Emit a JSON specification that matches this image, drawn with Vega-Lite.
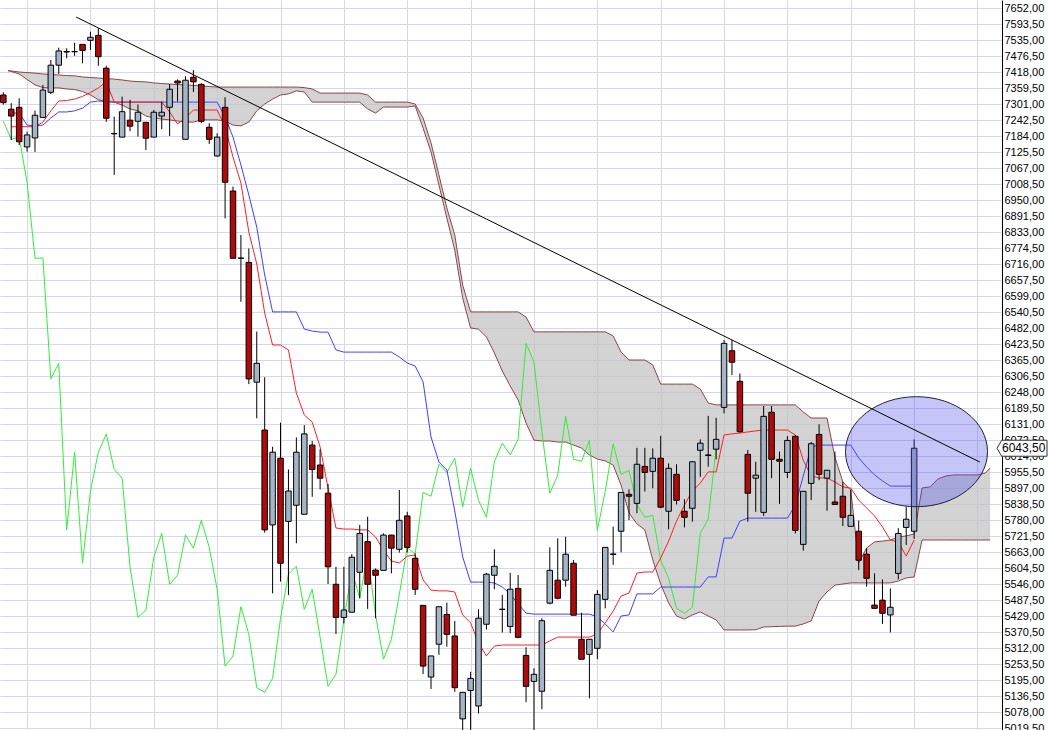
{
"$schema":"https://vega.github.io/schema/vega-lite/v6.json",
"width":1002,"height":730,
"autosize":{"type":"none"},
"padding":{"left":0,"top":0,"right":47,"bottom":0},
"background":"white",
"config":{"view":{"stroke":null},
 "axisX":{"grid":true,"gridColor":"#D6D6EE","gridWidth":1,"labels":false,"ticks":false,"domain":false,"title":null,"tickCount":100,"zindex":0},
 "axisY":{"grid":true,"gridColor":"#D6D6EE","gridWidth":1,"ticks":false,"domain":true,"domainColor":"#000000","domainWidth":1,"labelFont":"Liberation Sans","labelFontSize":11,"labelColor":"#000000","labelPadding":2,"labelOverlap":false,"labelBound":false,"title":null,"tickCount":100,"zindex":0}},
"datasets":{
"candles":[
{"k":-1,"o":7335,"h":7345,"l":7300,"c":7307},
{"k":0,"o":7283,"h":7305,"l":7170,"c":7258},
{"k":1,"o":7290,"h":7323,"l":7152,"c":7164},
{"k":2,"o":7145,"h":7201,"l":7128,"c":7189},
{"k":3,"o":7178,"h":7278,"l":7127,"c":7261},
{"k":4,"o":7253,"h":7372,"l":7253,"c":7353},
{"k":5,"o":7345,"h":7463,"l":7338,"c":7444},
{"k":6,"o":7444,"h":7508,"l":7412,"c":7496},
{"k":7,"o":7492,"h":7506,"l":7469,"c":7494},
{"k":8,"o":7494,"h":7526,"l":7478,"c":7493},
{"k":9,"o":7520,"h":7521,"l":7451,"c":7498},
{"k":10,"o":7535,"h":7566,"l":7500,"c":7546},
{"k":11,"o":7553,"h":7579,"l":7442,"c":7475},
{"k":12,"o":7433,"h":7442,"l":7237,"c":7250},
{"k":13,"o":7193,"h":7256,"l":7043,"c":7194},
{"k":14,"o":7181,"h":7329,"l":7181,"c":7274},
{"k":15,"o":7243,"h":7317,"l":7203,"c":7221},
{"k":16,"o":7239,"h":7300,"l":7183,"c":7272},
{"k":17,"o":7235,"h":7236,"l":7134,"c":7177},
{"k":18,"o":7181,"h":7280,"l":7181,"c":7272},
{"k":19,"o":7258,"h":7311,"l":7210,"c":7272},
{"k":20,"o":7290,"h":7375,"l":7185,"c":7356},
{"k":21,"o":7386,"h":7392,"l":7311,"c":7379},
{"k":22,"o":7173,"h":7404,"l":7173,"c":7389},
{"k":23,"o":7400,"h":7426,"l":7346,"c":7383},
{"k":24,"o":7374,"h":7378,"l":7232,"c":7239},
{"k":25,"o":7217,"h":7232,"l":7156,"c":7173},
{"k":26,"o":7112,"h":7195,"l":7109,"c":7181},
{"k":27,"o":7290,"h":7327,"l":6884,"c":7016},
{"k":28,"o":6984,"h":7000,"l":6738,"c":6738},
{"k":29,"o":6738,"h":6823,"l":6579,"c":6739},
{"k":30,"o":6723,"h":6774,"l":6278,"c":6297},
{"k":31,"o":6285,"h":6470,"l":6153,"c":6354},
{"k":32,"o":6110,"h":6303,"l":5735,"c":5745},
{"k":33,"o":5763,"h":6049,"l":5513,"c":6029},
{"k":34,"o":6007,"h":6137,"l":5556,"c":5623},
{"k":35,"o":5776,"h":5966,"l":5507,"c":5887},
{"k":36,"o":5835,"h":6083,"l":5696,"c":6029},
{"k":37,"o":5802,"h":6128,"l":5802,"c":6096},
{"k":38,"o":6055,"h":6070,"l":5866,"c":5966},
{"k":39,"o":5982,"h":6040,"l":5893,"c":5934},
{"k":40,"o":5879,"h":5913,"l":5547,"c":5610},
{"k":41,"o":5546,"h":5610,"l":5364,"c":5425},
{"k":42,"o":5425,"h":5610,"l":5403,"c":5452},
{"k":43,"o":5444,"h":5656,"l":5444,"c":5645},
{"k":44,"o":5590,"h":5763,"l":5495,"c":5732},
{"k":45,"o":5702,"h":5793,"l":5456,"c":5546},
{"k":46,"o":5598,"h":5604,"l":5422,"c":5579},
{"k":47,"o":5597,"h":5732,"l":5597,"c":5726},
{"k":48,"o":5726,"h":5727,"l":5586,"c":5678},
{"k":49,"o":5674,"h":5891,"l":5662,"c":5780},
{"k":50,"o":5796,"h":5811,"l":5662,"c":5681},
{"k":51,"o":5641,"h":5659,"l":5507,"c":5528},
{"k":52,"o":5469,"h":5470,"l":5218,"c":5247},
{"k":53,"o":5207,"h":5285,"l":5163,"c":5284},
{"k":54,"o":5327,"h":5465,"l":5288,"c":5464},
{"k":55,"o":5436,"h":5479,"l":5318,"c":5363},
{"k":56,"o":5357,"h":5412,"l":5153,"c":5168},
{"k":57,"o":5054,"h":5152,"l":5000,"c":5151},
{"k":58,"o":5158,"h":5226,"l":5000,"c":5202},
{"k":59,"o":5101,"h":5455,"l":5074,"c":5422},
{"k":60,"o":5400,"h":5588,"l":5381,"c":5583},
{"k":61,"o":5579,"h":5674,"l":5528,"c":5612},
{"k":62,"o":5455,"h":5507,"l":5370,"c":5454},
{"k":63,"o":5392,"h":5588,"l":5367,"c":5528},
{"k":64,"o":5531,"h":5580,"l":5349,"c":5352},
{"k":65,"o":5286,"h":5316,"l":5115,"c":5173},
{"k":66,"o":5191,"h":5239,"l":5000,"c":5217},
{"k":67,"o":5155,"h":5422,"l":5089,"c":5413},
{"k":68,"o":5477,"h":5681,"l":5473,"c":5597},
{"k":69,"o":5561,"h":5714,"l":5491,"c":5495},
{"k":70,"o":5561,"h":5720,"l":5537,"c":5656},
{"k":71,"o":5623,"h":5635,"l":5433,"c":5433},
{"k":72,"o":5345,"h":5442,"l":5272,"c":5272},
{"k":73,"o":5290,"h":5346,"l":5129,"c":5345},
{"k":74,"o":5312,"h":5525,"l":5272,"c":5509},
{"k":75,"o":5491,"h":5682,"l":5458,"c":5681},
{"k":76,"o":5655,"h":5757,"l":5617,"c":5657},
{"k":77,"o":5740,"h":5883,"l":5663,"c":5882},
{"k":78,"o":5875,"h":5893,"l":5781,"c":5868},
{"k":79,"o":5842,"h":6045,"l":5806,"c":5985},
{"k":80,"o":5977,"h":6045,"l":5885,"c":5955},
{"k":81,"o":5959,"h":6043,"l":5897,"c":6007},
{"k":82,"o":6007,"h":6089,"l":5824,"c":5828},
{"k":83,"o":5813,"h":5988,"l":5747,"c":5970},
{"k":84,"o":5948,"h":5985,"l":5838,"c":5853},
{"k":85,"o":5813,"h":5857,"l":5754,"c":5791},
{"k":86,"o":5824,"h":5995,"l":5775,"c":5994},
{"k":87,"o":6036,"h":6076,"l":5939,"c":6062},
{"k":88,"o":6017,"h":6162,"l":5976,"c":6019},
{"k":89,"o":6040,"h":6155,"l":6003,"c":6076},
{"k":90,"o":6193,"h":6439,"l":6171,"c":6427},
{"k":91,"o":6400,"h":6439,"l":6311,"c":6358},
{"k":92,"o":6288,"h":6317,"l":6100,"c":6104},
{"k":93,"o":6021,"h":6037,"l":5775,"c":5879},
{"k":94,"o":5934,"h":5994,"l":5811,"c":5945},
{"k":95,"o":5809,"h":6198,"l":5796,"c":6160},
{"k":96,"o":6175,"h":6198,"l":5934,"c":6003},
{"k":97,"o":6003,"h":6031,"l":5840,"c":5996},
{"k":98,"o":5955,"h":6088,"l":5934,"c":6072},
{"k":99,"o":6087,"h":6092,"l":5732,"c":5743},
{"k":100,"o":5692,"h":5887,"l":5669,"c":5886},
{"k":101,"o":5915,"h":6067,"l":5854,"c":6060},
{"k":102,"o":6094,"h":6131,"l":5927,"c":5948},
{"k":103,"o":5934,"h":5964,"l":5815,"c":5963},
{"k":104,"o":5847,"h":6031,"l":5838,"c":5838},
{"k":105,"o":5868,"h":5921,"l":5759,"c":5791},
{"k":106,"o":5758,"h":5891,"l":5758,"c":5798},
{"k":107,"o":5740,"h":5779,"l":5598,"c":5634},
{"k":108,"o":5656,"h":5678,"l":5537,"c":5568},
{"k":109,"o":5470,"h":5586,"l":5458,"c":5458},
{"k":110,"o":5488,"h":5564,"l":5401,"c":5440},
{"k":111,"o":5434,"h":5531,"l":5370,"c":5462},
{"k":112,"o":5586,"h":5751,"l":5564,"c":5732},
{"k":113,"o":5754,"h":5830,"l":5690,"c":5784},
{"k":114,"o":5740,"h":6076,"l":5712,"c":6043.5}
],
"chikou":[
{"k":-1,"v":7239},{"k":0,"v":7173},{"k":1,"v":7181},{"k":2,"v":7016},{"k":3,"v":6738},{"k":4,"v":6739},{"k":5,"v":6297},{"k":6,"v":6354},{"k":7,"v":5745},{"k":8,"v":6029},{"k":9,"v":5623},{"k":10,"v":5887},{"k":11,"v":6029},{"k":12,"v":6096},{"k":13,"v":5966},{"k":14,"v":5934},{"k":15,"v":5610},{"k":16,"v":5425},{"k":17,"v":5452},{"k":18,"v":5645},{"k":19,"v":5732},{"k":20,"v":5546},{"k":21,"v":5579},{"k":22,"v":5726},{"k":23,"v":5678},{"k":24,"v":5780},{"k":25,"v":5681},{"k":26,"v":5528},{"k":27,"v":5247},{"k":28,"v":5284},{"k":29,"v":5464},{"k":30,"v":5363},{"k":31,"v":5168},{"k":32,"v":5151},{"k":33,"v":5202},{"k":34,"v":5422},{"k":35,"v":5583},{"k":36,"v":5612},{"k":37,"v":5454},{"k":38,"v":5528},{"k":39,"v":5352},{"k":40,"v":5173},{"k":41,"v":5217},{"k":42,"v":5413},{"k":43,"v":5597},{"k":44,"v":5495},{"k":45,"v":5656},{"k":46,"v":5433},{"k":47,"v":5272},{"k":48,"v":5345},{"k":49,"v":5509},{"k":50,"v":5681},{"k":51,"v":5657},{"k":52,"v":5882},{"k":53,"v":5868},{"k":54,"v":5985},{"k":55,"v":5955},{"k":56,"v":6007},{"k":57,"v":5828},{"k":58,"v":5970},{"k":59,"v":5853},{"k":60,"v":5791},{"k":61,"v":5994},{"k":62,"v":6062},{"k":63,"v":6019},{"k":64,"v":6076},{"k":65,"v":6427},{"k":66,"v":6358},{"k":67,"v":6104},{"k":68,"v":5879},{"k":69,"v":5945},{"k":70,"v":6160},{"k":71,"v":6003},{"k":72,"v":5996},{"k":73,"v":6072},{"k":74,"v":5743},{"k":75,"v":5886},{"k":76,"v":6060},{"k":77,"v":5948},{"k":78,"v":5963},{"k":79,"v":5838},{"k":80,"v":5791},{"k":81,"v":5798},{"k":82,"v":5634},{"k":83,"v":5568},{"k":84,"v":5458},{"k":85,"v":5440},{"k":86,"v":5462},{"k":87,"v":5732},{"k":88,"v":5784},{"k":89,"v":6043.5}
],
"lines":[
{"k":0,"tk":7219,"kj":7269},{"k":1,"tk":7219,"kj":7269},{"k":2,"tk":7219,"kj":7225},{"k":3,"tk":7219,"kj":7222},{"k":4,"tk":7236,"kj":7225},{"k":5,"tk":7277,"kj":7251},{"k":6,"tk":7313,"kj":7273},{"k":7,"tk":7315,"kj":7273},{"k":8,"tk":7320,"kj":7277},{"k":9,"tk":7330,"kj":7287},{"k":10,"tk":7344,"kj":7309},{"k":11,"tk":7361,"kj":7313},{"k":12,"tk":7383,"kj":7311},{"k":13,"tk":7309,"kj":7309},{"k":14,"tk":7309,"kj":7309},{"k":15,"tk":7309,"kj":7309},{"k":16,"tk":7309,"kj":7309},{"k":17,"tk":7309,"kj":7309},{"k":18,"tk":7309,"kj":7309},{"k":19,"tk":7309,"kj":7309},{"k":20,"tk":7273,"kj":7309},{"k":21,"tk":7229,"kj":7309},{"k":22,"tk":7251,"kj":7309},{"k":23,"tk":7280,"kj":7309},{"k":24,"tk":7280,"kj":7309},{"k":25,"tk":7280,"kj":7309},{"k":26,"tk":7280,"kj":7309},{"k":27,"tk":7218,"kj":7255},{"k":28,"tk":7108,"kj":7181},{"k":29,"tk":7013,"kj":7079},{"k":30,"tk":6834,"kj":6969},{"k":31,"tk":6717,"kj":6852},{"k":32,"tk":6538,"kj":6677},{"k":33,"tk":6421,"kj":6542},{"k":34,"tk":6421,"kj":6542},{"k":35,"tk":6403,"kj":6542},{"k":36,"tk":6245,"kj":6542},{"k":37,"tk":6165,"kj":6479},{"k":38,"tk":6139,"kj":6472},{"k":39,"tk":6048,"kj":6468},{"k":40,"tk":5898,"kj":6468},{"k":41,"tk":5752,"kj":6403},{"k":42,"tk":5748,"kj":6395},{"k":43,"tk":5748,"kj":6395},{"k":44,"tk":5745,"kj":6395},{"k":45,"tk":5745,"kj":6395},{"k":46,"tk":5719,"kj":6395},{"k":47,"tk":5671,"kj":6395},{"k":48,"tk":5631,"kj":6395},{"k":49,"tk":5624,"kj":6377},{"k":50,"tk":5649,"kj":6355},{"k":51,"tk":5653,"kj":6344},{"k":52,"tk":5562,"kj":6286},{"k":53,"tk":5525,"kj":6085},{"k":54,"tk":5522,"kj":5993},{"k":55,"tk":5522,"kj":5964},{"k":56,"tk":5518,"kj":5814},{"k":57,"tk":5434,"kj":5646},{"k":58,"tk":5405,"kj":5554},{"k":59,"tk":5331,"kj":5554},{"k":60,"tk":5284,"kj":5554},{"k":61,"tk":5320,"kj":5551},{"k":62,"tk":5324,"kj":5536},{"k":63,"tk":5324,"kj":5511},{"k":64,"tk":5324,"kj":5474},{"k":65,"tk":5324,"kj":5441},{"k":66,"tk":5324,"kj":5437},{"k":67,"tk":5324,"kj":5437},{"k":68,"tk":5339,"kj":5437},{"k":69,"tk":5353,"kj":5437},{"k":70,"tk":5353,"kj":5437},{"k":71,"tk":5353,"kj":5437},{"k":72,"tk":5353,"kj":5437},{"k":73,"tk":5353,"kj":5437},{"k":74,"tk":5364,"kj":5427},{"k":75,"tk":5405,"kj":5401},{"k":76,"tk":5448,"kj":5372},{"k":77,"tk":5503,"kj":5430},{"k":78,"tk":5514,"kj":5434},{"k":79,"tk":5587,"kj":5511},{"k":80,"tk":5591,"kj":5511},{"k":81,"tk":5591,"kj":5511},{"k":82,"tk":5642,"kj":5536},{"k":83,"tk":5704,"kj":5536},{"k":84,"tk":5777,"kj":5536},{"k":85,"tk":5836,"kj":5536},{"k":86,"tk":5887,"kj":5536},{"k":87,"tk":5916,"kj":5536},{"k":88,"tk":5957,"kj":5573},{"k":89,"tk":5957,"kj":5573},{"k":90,"tk":6092,"kj":5715},{"k":91,"tk":6096,"kj":5715},{"k":92,"tk":6099,"kj":5777},{"k":93,"tk":6103,"kj":5788},{"k":94,"tk":6107,"kj":5788},{"k":95,"tk":6110,"kj":5788},{"k":96,"tk":6110,"kj":5788},{"k":97,"tk":6110,"kj":5788},{"k":98,"tk":6110,"kj":5788},{"k":99,"tk":6092,"kj":5836},{"k":100,"tk":6000,"kj":5942},{"k":101,"tk":5942,"kj":6048},{"k":102,"tk":5935,"kj":6055},{"k":103,"tk":5935,"kj":6055},{"k":104,"tk":5920,"kj":6055},{"k":105,"tk":5902,"kj":6055},{"k":106,"tk":5898,"kj":6055},{"k":107,"tk":5854,"kj":6008},{"k":108,"tk":5825,"kj":5975},{"k":109,"tk":5796,"kj":5946},{"k":110,"tk":5756,"kj":5924},{"k":111,"tk":5708,"kj":5905},{"k":112,"tk":5701,"kj":5905},{"k":113,"tk":5649,"kj":5905},{"k":114,"tk":5708,"kj":5905}
],
"cloud":[
{"k":-0.4,"a":7424,"b":7424},{"k":0,"a":7423,"b":7421},{"k":1,"a":7419,"b":7412},{"k":2,"a":7417,"b":7392},{"k":3,"a":7415,"b":7372},{"k":4,"a":7412,"b":7362},{"k":5,"a":7410,"b":7361},{"k":6,"a":7408,"b":7361},{"k":7,"a":7406,"b":7357},{"k":8,"a":7405,"b":7355},{"k":9,"a":7401,"b":7348},{"k":10,"a":7399,"b":7335},{"k":11,"a":7397,"b":7318},{"k":12,"a":7395,"b":7311},{"k":13,"a":7393,"b":7309},{"k":14,"a":7390,"b":7298},{"k":15,"a":7386,"b":7284},{"k":16,"a":7384,"b":7277},{"k":17,"a":7383,"b":7258},{"k":18,"a":7379,"b":7251},{"k":19,"a":7377,"b":7247},{"k":20,"a":7375,"b":7244},{"k":21,"a":7373,"b":7240},{"k":22,"a":7372,"b":7236},{"k":23,"a":7370,"b":7236},{"k":24,"a":7368,"b":7244},{"k":25,"a":7366,"b":7244},{"k":26,"a":7364,"b":7244},{"k":27,"a":7364,"b":7240},{"k":28,"a":7364,"b":7225},{"k":29,"a":7364,"b":7222},{"k":30,"a":7364,"b":7236},{"k":31,"a":7364,"b":7277},{"k":32,"a":7364,"b":7302},{"k":33,"a":7364,"b":7320},{"k":34,"a":7364,"b":7335},{"k":35,"a":7364,"b":7339},{"k":36,"a":7364,"b":7350},{"k":37,"a":7362,"b":7346},{"k":38,"a":7357,"b":7309},{"k":39,"a":7342,"b":7309},{"k":40,"a":7342,"b":7309},{"k":41,"a":7342,"b":7309},{"k":42,"a":7342,"b":7309},{"k":43,"a":7342,"b":7309},{"k":44,"a":7342,"b":7309},{"k":45,"a":7335,"b":7284},{"k":46,"a":7309,"b":7269},{"k":47,"a":7309,"b":7291},{"k":48,"a":7309,"b":7291},{"k":49,"a":7309,"b":7291},{"k":50,"a":7309,"b":7291},{"k":51,"a":7302,"b":7295},{"k":52,"a":7251,"b":7214},{"k":53,"a":7160,"b":7127},{"k":54,"a":7043,"b":7006},{"k":55,"a":6922,"b":6885},{"k":56,"a":6823,"b":6768},{"k":57,"a":6640,"b":6593},{"k":58,"a":6542,"b":6483},{"k":59,"a":6542,"b":6479},{"k":60,"a":6542,"b":6450},{"k":61,"a":6542,"b":6392},{"k":62,"a":6542,"b":6326},{"k":63,"a":6542,"b":6271},{"k":64,"a":6542,"b":6220},{"k":65,"a":6523,"b":6136},{"k":66,"a":6469,"b":6073},{"k":67,"a":6469,"b":6070},{"k":68,"a":6469,"b":6070},{"k":69,"a":6469,"b":6066},{"k":70,"a":6469,"b":6066},{"k":71,"a":6469,"b":6055},{"k":72,"a":6469,"b":6044},{"k":73,"a":6469,"b":6019},{"k":74,"a":6469,"b":6004},{"k":75,"a":6469,"b":5997},{"k":76,"a":6454,"b":5982},{"k":77,"a":6395,"b":5909},{"k":78,"a":6366,"b":5807},{"k":79,"a":6366,"b":5767},{"k":80,"a":6366,"b":5745},{"k":81,"a":6348,"b":5635},{"k":82,"a":6278,"b":5547},{"k":83,"a":6278,"b":5478},{"k":84,"a":6278,"b":5430},{"k":85,"a":6278,"b":5419},{"k":86,"a":6278,"b":5434},{"k":87,"a":6260,"b":5445},{"k":88,"a":6209,"b":5430},{"k":89,"a":6202,"b":5416},{"k":90,"a":6202,"b":5379},{"k":91,"a":6202,"b":5379},{"k":92,"a":6202,"b":5379},{"k":93,"a":6202,"b":5379},{"k":94,"a":6202,"b":5380},{"k":95,"a":6202,"b":5390},{"k":96,"a":6202,"b":5391},{"k":97,"a":6202,"b":5392},{"k":98,"a":6202,"b":5393},{"k":99,"a":6202,"b":5393},{"k":100,"a":6176,"b":5401},{"k":101,"a":6154,"b":5412},{"k":102,"a":6154,"b":5485},{"k":103,"a":6154,"b":5518},{"k":104,"a":6011,"b":5543},{"k":105,"a":5920,"b":5547},{"k":106,"a":5891,"b":5551},{"k":107,"a":5624,"b":5551},{"k":108,"a":5679,"b":5551},{"k":109,"a":5701,"b":5551},{"k":110,"a":5704,"b":5551},{"k":111,"a":5708,"b":5551},{"k":112,"a":5719,"b":5558},{"k":113,"a":5723,"b":5569},{"k":114,"a":5730,"b":5573},{"k":115,"a":5898,"b":5708},{"k":116,"a":5902,"b":5708},{"k":117,"a":5931,"b":5708},{"k":118,"a":5942,"b":5708},{"k":119,"a":5946,"b":5708},{"k":120,"a":5946,"b":5708},{"k":121,"a":5946,"b":5708},{"k":122,"a":5946,"b":5708},{"k":123,"a":5953,"b":5708},{"k":123.6,"a":5971,"b":5708}
],
"trend":[{"k":8.2,"v":7620},{"k":122.3,"v":5993}],
"marker":[{"k":114.3,"v":6030.8}],
"price":[{"k":124.4625,"v":6043.5,"label":"6043,50"}]
},
"layer":[
{"data":{"name":"cloud"},"mark":{"type":"area","color":"#C0C0C0","opacity":0.7},
 "encoding":{
  "x":{"field":"k","type":"quantitative","title":null,"scale":{"domain":[-0.7875,124.4625],"nice":false,"zero":false},
   "axis":{"values":[2,10,18,26,34,42,50,58,66,74,82,90,98,106,114,122],"tickCount":100}},
  "y":{"field":"a","type":"quantitative","title":null,"scale":{"domain":[5013.3,7682.35],"nice":false,"zero":false},
   "axis":{"orient":"right","tickCount":100,"values":[5019.5,5078,5136.5,5195,5253.5,5312,5370.5,5429,5487.5,5546,5604.5,5663,5721.5,5780,5838.5,5897,5955.5,6014,6072.5,6131,6189.5,6248,6306.5,6365,6423.5,6482,6540.5,6599,6657.5,6716,6774.5,6833,6891.5,6950,7008.5,7067,7125.5,7184,7242.5,7301,7359.5,7418,7476.5,7535,7593.5,7652],
    "labelExpr":"replace(format(datum.value,'.2f'),'.',',')"}},
  "y2":{"field":"b"}}},
{"data":{"name":"cloud"},"mark":{"type":"line","color":"#8C4646","strokeWidth":1},
 "encoding":{"x":{"field":"k","type":"quantitative","title":null,"scale":{"domain":[-0.7875,124.4625],"nice":false,"zero":false}},
  "y":{"field":"a","type":"quantitative","title":null,"scale":{"domain":[5013.3,7682.35],"nice":false,"zero":false}}}},
{"data":{"name":"cloud"},"mark":{"type":"line","color":"#8C4646","strokeWidth":1},
 "encoding":{"x":{"field":"k","type":"quantitative","title":null,"scale":{"domain":[-0.7875,124.4625],"nice":false,"zero":false}},
  "y":{"field":"b","type":"quantitative","title":null,"scale":{"domain":[5013.3,7682.35],"nice":false,"zero":false}}}},
{"data":{"name":"chikou"},"mark":{"type":"line","color":"#33EE33","strokeWidth":1},
 "encoding":{"x":{"field":"k","type":"quantitative","title":null,"scale":{"domain":[-0.7875,124.4625],"nice":false,"zero":false}},
  "y":{"field":"v","type":"quantitative","title":null,"scale":{"domain":[5013.3,7682.35],"nice":false,"zero":false}}}},
{"data":{"name":"lines"},"mark":{"type":"line","color":"#4040FF","strokeWidth":1},
 "encoding":{"x":{"field":"k","type":"quantitative","title":null,"scale":{"domain":[-0.7875,124.4625],"nice":false,"zero":false}},
  "y":{"field":"kj","type":"quantitative","title":null,"scale":{"domain":[5013.3,7682.35],"nice":false,"zero":false}}}},
{"data":{"name":"lines"},"mark":{"type":"line","color":"#FF2020","strokeWidth":1},
 "encoding":{"x":{"field":"k","type":"quantitative","title":null,"scale":{"domain":[-0.7875,124.4625],"nice":false,"zero":false}},
  "y":{"field":"tk","type":"quantitative","title":null,"scale":{"domain":[5013.3,7682.35],"nice":false,"zero":false}}}},
{"data":{"name":"candles"},"mark":{"type":"rule","color":"#000000","strokeWidth":1},
 "encoding":{"x":{"field":"k","type":"quantitative","title":null,"scale":{"domain":[-0.7875,124.4625],"nice":false,"zero":false}},
  "y":{"field":"l","type":"quantitative","title":null,"scale":{"domain":[5013.3,7682.35],"nice":false,"zero":false}},
  "y2":{"field":"h"}}},
{"data":{"name":"candles"},"mark":{"type":"bar","size":5.5,"stroke":"#000000","strokeWidth":1,"opacity":1},
 "encoding":{"x":{"field":"k","type":"quantitative","title":null,"scale":{"domain":[-0.7875,124.4625],"nice":false,"zero":false}},
  "y":{"field":"o","type":"quantitative","title":null,"scale":{"domain":[5013.3,7682.35],"nice":false,"zero":false}},
  "y2":{"field":"c"},
  "fill":{"condition":{"test":"datum.c < datum.o","value":"#B00A0A"},"value":"#A6B5C4"}}},
{"data":{"name":"marker"},"mark":{"type":"point","shape":"M -1 0 A 1 0.775 0 1 1 1 0 A 1 0.775 0 1 1 -1 0 Z","size":20164,"filled":true,"fill":"#5050E6","fillOpacity":0.33,"stroke":"#202040","strokeWidth":1,"strokeOpacity":1},
 "encoding":{"x":{"field":"k","type":"quantitative","title":null,"scale":{"domain":[-0.7875,124.4625],"nice":false,"zero":false}},
  "y":{"field":"v","type":"quantitative","title":null,"scale":{"domain":[5013.3,7682.35],"nice":false,"zero":false}}}},
{"data":{"name":"trend"},"mark":{"type":"line","color":"#000000","strokeWidth":1},
 "encoding":{"x":{"field":"k","type":"quantitative","title":null,"scale":{"domain":[-0.7875,124.4625],"nice":false,"zero":false}},
  "y":{"field":"v","type":"quantitative","title":null,"scale":{"domain":[5013.3,7682.35],"nice":false,"zero":false}}}},
{"data":{"name":"price"},"mark":{"type":"point","shape":"M 0 0 L 0.47 -0.8 L 5 -0.8 L 5 0.8 L 0.47 0.8 Z","size":400,"filled":true,"fill":"#FFFFFF","fillOpacity":1,"stroke":"#333333","strokeWidth":1,"opacity":1},
 "encoding":{"x":{"field":"k","type":"quantitative","title":null,"scale":{"domain":[-0.7875,124.4625],"nice":false,"zero":false}},
  "y":{"field":"v","type":"quantitative","title":null,"scale":{"domain":[5013.3,7682.35],"nice":false,"zero":false}}}},
{"data":{"name":"price"},"mark":{"type":"text","align":"left","baseline":"middle","dx":5,"font":"Liberation Sans","fontSize":12,"color":"#000000"},
 "encoding":{"x":{"field":"k","type":"quantitative","title":null,"scale":{"domain":[-0.7875,124.4625],"nice":false,"zero":false}},
  "y":{"field":"v","type":"quantitative","title":null,"scale":{"domain":[5013.3,7682.35],"nice":false,"zero":false}},
  "text":{"field":"label"}}}
]
}
